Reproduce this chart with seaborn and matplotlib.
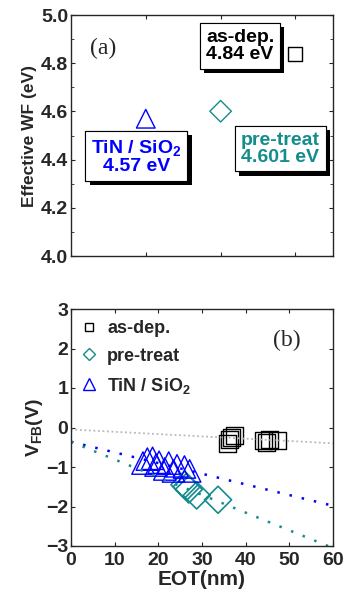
import seaborn as sns
import matplotlib.pyplot as plt
import matplotlib.patheffects as pe
from matplotlib.lines import Line2D

# (a) effective work function per sample
wf_groups = ["TiN / SiO$_2$", "pre-treat", "as-dep."]
wf_pos = [1, 2, 3]
wf_vals = [4.57, 4.601, 4.84]

# (b) VFB vs EOT
asdep_eot = [35.8, 36.3, 36.8, 37.5, 44.0, 44.8, 45.5, 47.3]
asdep_vfb = [-0.40, -0.30, -0.25, -0.20, -0.33, -0.38, -0.30, -0.32]
pre_eot = [26.0, 26.5, 27.0, 28.8, 33.7]
pre_vfb = [-1.45, -1.50, -1.57, -1.72, -1.83]
tin_eot = [16.5, 17.5, 18.7, 19.5, 20.2, 21.5, 22.4, 23.5, 24.3, 26.0, 27.2]
tin_vfb = [-0.90, -0.80, -0.78, -0.95, -0.88, -1.05, -0.90, -1.10, -0.97, -1.00, -1.10]

# linear fit lines (end points)
fit_x = [0, 60]
fit_asdep = [-0.05, -0.40]
fit_tin = [-0.36, -1.98]
fit_pre = [-0.36, -3.05]

BLUE = "#0000ff"
TEAL = "#138c8c"

sns.set_style("ticks")
plt.rcParams["font.family"] = ["Liberation Sans", "DejaVu Sans"]
plt.rcParams["font.weight"] = "bold"
plt.rcParams["axes.labelweight"] = "bold"
plt.rcParams["mathtext.fontset"] = "custom"
plt.rcParams["mathtext.rm"] = "Liberation Sans:bold"
plt.rcParams["mathtext.bf"] = "Liberation Sans:bold"
plt.rcParams["mathtext.default"] = "bf"
for k in ["xtick", "ytick"]:
    plt.rcParams[k + ".direction"] = "in"
    plt.rcParams[k + ".major.size"] = 3
    plt.rcParams[k + ".minor.size"] = 2
    plt.rcParams[k + ".labelsize"] = 14
    plt.rcParams[k + ".major.pad"] = 2
plt.rcParams["axes.linewidth"] = 1.0

fig = plt.figure(figsize=(3.46, 6.0), dpi=100)
ax1 = fig.add_axes([0.205, 0.573, 0.757, 0.402])
ax2 = fig.add_axes([0.205, 0.09, 0.757, 0.395])

# ---------- panel (a)
colors = [BLUE, TEAL, "black"]
markers = ["^", "D", "s"]
sizes = [180, 120, 100]
for p, v, c, m, s in zip(wf_pos, wf_vals, colors, markers, sizes):
    sns.scatterplot(x=[p], y=[v], ax=ax1, marker=m, s=s, facecolor="none",
                    edgecolor=c, linewidth=1.0)

ax1.set_xlim(0, 3.5)
ax1.set_ylim(4.0, 5.0)
ax1.set_xticks(wf_pos)
ax1.set_xticklabels([])
ax1.set_yticks([4.0, 4.2, 4.4, 4.6, 4.8, 5.0])
ax1.set_yticks([4.1, 4.3, 4.5, 4.7, 4.9], minor=True)
ax1.tick_params(top=True, right=True, which="both")
ax1.set_ylabel("Effective WF (eV)", fontsize=12.5, labelpad=3)
ax1.text(0.43, 4.863, "(a)", family="Liberation Serif", weight="normal",
         fontsize=17, ha="center", va="center")

shadow = [pe.withSimplePatchShadow(offset=(3, -3), shadow_rgbFace="black", alpha=1.0),
          pe.Normal()]
boxes = [
    (0.875, 4.413, "TiN / SiO$_2$\n4.57 eV", BLUE),
    (2.80, 4.446, "pre-treat\n4.601 eV", TEAL),
    (2.26, 4.871, "as-dep.\n4.84 eV", "black"),
]
for bx, by, txt, c in boxes:
    t = ax1.text(bx, by, txt, color=c, fontsize=14, ha="center", va="center",
                 multialignment="center", linespacing=1.0,
                 bbox=dict(boxstyle="square,pad=0.3", fc="white", ec="black", lw=0.8))
    t.get_bbox_patch().set_path_effects(shadow)

# ---------- panel (b)
sns.lineplot(x=fit_x, y=fit_asdep, ax=ax2, color="#b8b8b8", lw=1.3,
             linestyle=(0, (1, 1.5)))
sns.lineplot(x=fit_x, y=fit_tin, ax=ax2, color=BLUE, lw=1.8,
             linestyle=(0, (1, 4)))
sns.lineplot(x=fit_x, y=fit_pre, ax=ax2, color=TEAL, lw=1.8,
             linestyle=(0, (1, 4)))

sns.scatterplot(x=asdep_eot, y=asdep_vfb, ax=ax2, marker="s", s=150,
                facecolor="none", edgecolor="black", linewidth=1.0)
sns.scatterplot(x=pre_eot, y=pre_vfb, ax=ax2, marker="D", s=190,
                facecolor="none", edgecolor=TEAL, linewidth=1.2)
sns.scatterplot(x=tin_eot, y=tin_vfb, ax=ax2, marker="^", s=260,
                facecolor="none", edgecolor=BLUE, linewidth=1.0)

ax2.set_xlim(0, 60)
ax2.set_ylim(-3, 3)
ax2.set_xticks(range(0, 61, 10))
ax2.set_yticks(range(-3, 4))
ax2.tick_params(top=True, right=True)
ax2.tick_params(axis="x", pad=4)
ax2.set_xlabel("EOT(nm)", fontsize=15, labelpad=1)
ax2.set_ylabel("V$_{\\rm FB}$(V)", fontsize=14, labelpad=1)
ax2.text(49.5, 2.2, "(b)", family="Liberation Serif", weight="normal",
         fontsize=17, ha="center", va="center")

handles = [
    Line2D([], [], ls="none", marker="s", ms=6, mfc="none", mec="black", mew=1.0),
    Line2D([], [], ls="none", marker="D", ms=6, mfc="none", mec=TEAL, mew=1.0),
    Line2D([], [], ls="none", marker="^", ms=8, mfc="none", mec=BLUE, mew=1.0),
]
ax2.legend(handles, ["as-dep.", "pre-treat", "TiN / SiO$_2$"], loc="upper left",
           frameon=False, fontsize=13, handlelength=0.8, handletextpad=0.6,
           labelspacing=0.6, borderaxespad=0.2, bbox_to_anchor=(0.0, 1.0))

fig.savefig("out.png", dpi=100)
